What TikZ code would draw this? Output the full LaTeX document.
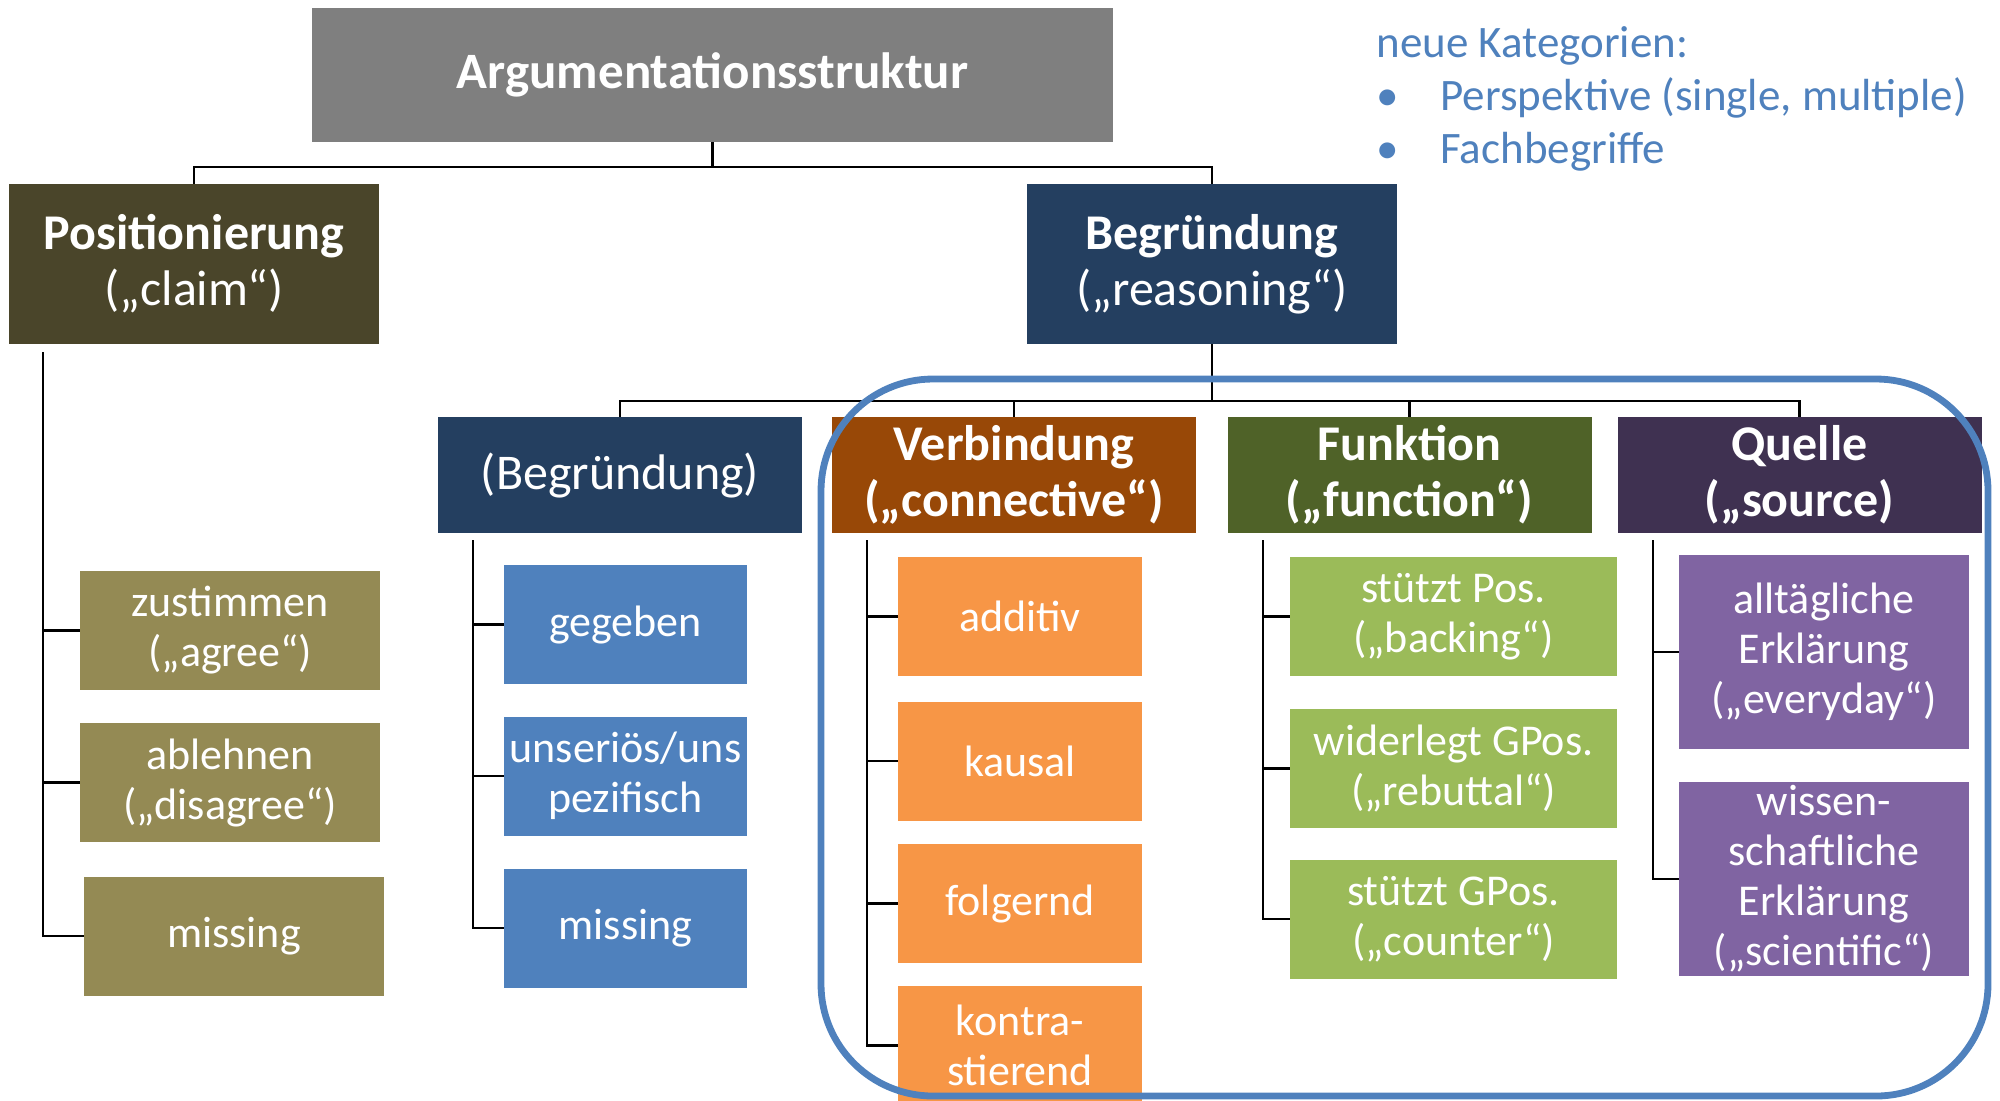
\documentclass[tikz,border=0pt]{standalone}
\usepackage{fontspec}
\setmainfont{Carlito}
\definecolor{cTitle}{HTML}{7F7F7F}
\definecolor{cPos}{HTML}{4A452A}
\definecolor{cPosC}{HTML}{948A54}
\definecolor{cBeg}{HTML}{243F60}
\definecolor{cBlue}{HTML}{4F81BD}
\definecolor{cVerb}{HTML}{984807}
\definecolor{cOrange}{HTML}{F79646}
\definecolor{cFunk}{HTML}{4F6228}
\definecolor{cGreen}{HTML}{9BBB59}
\definecolor{cQuel}{HTML}{3F3151}
\definecolor{cPurple}{HTML}{8064A2}
\tikzset{
  box/.style={inner sep=0pt, outer sep=0pt, align=center, text=white,
    font=\fontsize{22}{25}\selectfont},
  headbox/.style={box, minimum width=185pt, minimum height=80pt,
    font=\fontsize{25}{28}\selectfont},
  subhead/.style={box, minimum width=182pt, minimum height=58pt,
    font=\fontsize{25}{28}\selectfont},
  conn/.style={draw=black, line width=1.1pt},
  note/.style={text=cBlue, inner sep=0pt, anchor=base west,
    font=\fontsize{22.5}{26}\selectfont}
}
\begin{document}
\begin{tikzpicture}[x=0.5pt,y=-0.5pt]
\useasboundingbox (0,0) rectangle (2000,1100);
\clip (0,0) rectangle (2000,1100);

% level 0
\node[box, fill=cTitle, minimum width=400.5pt, minimum height=67pt,
  font=\fontsize{25.5}{28}\selectfont\bfseries] (title) at (712.5,75) {Argumentationsstruktur};

% level 1
\node[headbox, fill=cPos] (pos) at (194,264) {\textbf{Positionierung}\\(„claim“)};
\node[headbox, fill=cBeg] (beg) at (1212,264) {\textbf{Begründung}\\(„reasoning“)};

\coordinate (j1) at (712.5,167);
\draw[conn] (title.south) -- (j1) -| (pos.north);
\draw[conn] (j1) -| (beg.north);

% level 2
\node[subhead, fill=cBeg] (b2) at (620,475) {(Begründung)};
\node[subhead, fill=cVerb, font=\fontsize{25}{28}\selectfont\bfseries] (verb) at (1014,475) {Verbindung\\(„connective“)};
\node[subhead, fill=cFunk, font=\fontsize{25}{28}\selectfont\bfseries] (funk) at (1409.5,475) {Funktion\\(„function“)};
\node[subhead, fill=cQuel, font=\fontsize{25}{28}\selectfont\bfseries] (quel) at (1799.5,475) {Quelle\\(„source)};

\coordinate (j2) at (1212,401);
\draw[conn] (beg.south) -- (j2);
\draw[conn] (j2) -| (b2.north);
\draw[conn] (j2) -| (verb.north);
\draw[conn] (j2) -| (funk.north);
\draw[conn] (j2) -| (quel.north);

% Positionierung children
\tikzset{pc/.style={box, fill=cPosC, minimum width=150pt, minimum height=59.5pt}}
\node[pc] (zu) at (230,630.5) {zustimmen\\(„agree“)};
\node[pc] (ab) at (230,782.5) {ablehnen\\(„disagree“)};
\node[pc] (mi1) at (234,936) {missing};
\coordinate (v1) at (43,352);
\draw[conn] (v1) |- (zu.west);
\draw[conn] (v1) |- (ab.west);
\draw[conn] (v1) |- (mi1.west);

% (Begründung) children
\tikzset{bc/.style={box, fill=cBlue, minimum width=121.5pt, minimum height=59.5pt}}
\node[bc] (ge) at (625.5,624.5) {gegeben};
\node[bc] (un) at (625.5,776) {unseriös/uns\\pezifisch};
\node[bc] (mi2) at (625.5,928) {missing};
\coordinate (v2) at (473,540);
\draw[conn] (v2) |- (ge.west);
\draw[conn] (v2) |- (un.west);
\draw[conn] (v2) |- (mi2.west);

% Verbindung children
\tikzset{vc/.style={box, fill=cOrange, minimum width=122pt, minimum height=59.5pt}}
\node[vc] (add) at (1020,616.5) {additiv};
\node[vc] (kau) at (1020,761) {kausal};
\node[vc] (fol) at (1020,903.5) {folgernd};
\node[vc] (kon) at (1020,1045.5) {kontra-\\stierend};
\coordinate (v3) at (867,540);
\draw[conn] (v3) |- (add.west);
\draw[conn] (v3) |- (kau.west);
\draw[conn] (v3) |- (fol.west);
\draw[conn] (v3) |- (kon.west);

% Funktion children
\tikzset{fc/.style={box, fill=cGreen, minimum width=163.5pt, minimum height=59.5pt}}
\node[fc] (sp) at (1453.5,616.5) {stützt Pos.\\(„backing“)};
\node[fc] (wg) at (1453.5,768.5) {widerlegt GPos.\\(„rebuttal“)};
\node[fc] (sg) at (1453.5,919) {stützt GPos.\\(„counter“)};
\coordinate (v4) at (1263,540);
\draw[conn] (v4) |- (sp.west);
\draw[conn] (v4) |- (wg.west);
\draw[conn] (v4) |- (sg.west);

% Quelle children
\tikzset{qc/.style={box, fill=cPurple, minimum width=145pt, minimum height=97pt}}
\node[qc] (all) at (1824,652) {alltägliche\\Erklärung\\(„everyday“)};
\node[qc] (wis) at (1824,879) {wissen-\\schaftliche\\Erklärung\\(„scientific“)};
\coordinate (v5) at (1653,540);
\draw[conn] (v5) |- (all.west);
\draw[conn] (v5) |- (wis.west);

% highlight frame
\draw[draw=cBlue, line width=3.4pt, rounded corners=56pt] (821,379) rectangle (1988,1096);

% note
\node[note] (n0) at (1376,57) {neue Kategorien:};
\node[note] (n1b) at (1376,110) {•};
\node[note] (n1) at (1440,110) {Perspektive (single, multiple)};
\node[note] (n2b) at (1376,163) {•};
\node[note] (n2) at (1440,163) {Fachbegriffe};
\end{tikzpicture}
\end{document}
